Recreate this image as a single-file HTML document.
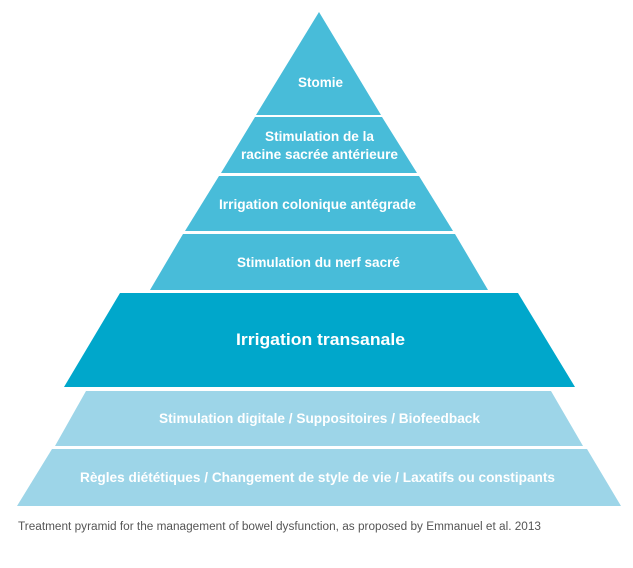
<!DOCTYPE html>
<html><head><meta charset="utf-8"><style>
html,body{margin:0;padding:0;background:#fff;}
svg{display:block;}
text{font-family:"Liberation Sans",sans-serif;font-weight:bold;fill:#fff;text-anchor:start;}
</style></head><body>
<svg width="633" height="568" viewBox="0 0 633 568">
<polygon points="319,12 381,115 256,115" fill="#48bcd9"/>
<polygon points="255,117 382,117 417,173 221,173" fill="#48bcd9"/>
<polygon points="219,176 419,176 453,231 185,231" fill="#48bcd9"/>
<polygon points="183,234 455,234 488,290 150,290" fill="#48bcd9"/>
<polygon points="120,293 518,293 575,387 64,387" fill="#00a7cb"/>
<polygon points="86,391 551,391 583,446 55,446" fill="#9dd5e8"/>
<polygon points="52,449 587,449 621,506 17,506" fill="#9dd5e8"/>
<text x="298" y="87" font-size="13.5" textLength="45" lengthAdjust="spacingAndGlyphs">Stomie</text>
<text x="265" y="141" font-size="13.5" textLength="109" lengthAdjust="spacingAndGlyphs">Stimulation de la</text>
<text x="241" y="159" font-size="13.5" textLength="157" lengthAdjust="spacingAndGlyphs">racine sacrée antérieure</text>
<text x="219" y="209" font-size="13.5" textLength="197" lengthAdjust="spacingAndGlyphs">Irrigation colonique antégrade</text>
<text x="237" y="267" font-size="13.5" textLength="163" lengthAdjust="spacingAndGlyphs">Stimulation du nerf sacré</text>
<text x="236" y="345" font-size="17" textLength="169" lengthAdjust="spacingAndGlyphs">Irrigation transanale</text>
<text x="159" y="423" font-size="13.5" textLength="321" lengthAdjust="spacingAndGlyphs">Stimulation digitale / Suppositoires / Biofeedback</text>
<text x="80" y="482" font-size="13.5" textLength="475" lengthAdjust="spacingAndGlyphs">Règles diététiques / Changement de style de vie / Laxatifs ou constipants</text>
<text x="18" y="530" font-size="11.5" textLength="523" lengthAdjust="spacingAndGlyphs" style="font-weight:normal;fill:#555">Treatment pyramid for the management of bowel dysfunction, as proposed by Emmanuel et al. 2013</text>
</svg>
</body></html>
